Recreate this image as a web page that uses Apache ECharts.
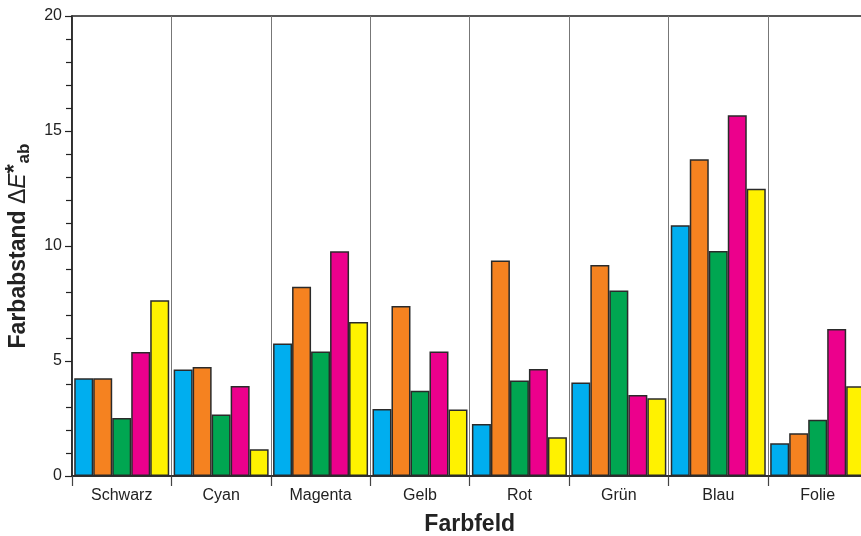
<!DOCTYPE html>
<html>
<head>
<meta charset="utf-8">
<script src="https://cdn.jsdelivr.net/npm/echarts@6/dist/echarts.min.js"></script>
<style>
  html, body { margin: 0; padding: 0; background: #fff; }
  #chart { width: 861px; height: 536px; }
</style>
</head>
<body>
<div id="chart"></div>
<script>
// Farbfelder (categories on the x axis)
const categories = ['Schwarz', 'Cyan', 'Magenta', 'Gelb', 'Rot', 'Grün', 'Blau', 'Folie'];

// ΔE*ab per Farbfeld, one array per bar series (left to right within each group)
const seriesCyan    = [4.25, 4.63, 5.76, 2.91, 2.26, 4.07, 10.90, 1.42];
const seriesOrange  = [4.25, 4.74, 8.23, 7.39, 9.37, 9.17, 13.77, 1.86];
const seriesGreen   = [2.52, 2.67, 5.41, 3.71, 4.15, 8.07, 9.78, 2.45];
const seriesMagenta = [5.39, 3.91, 9.77, 5.41, 4.65, 3.52, 15.68, 6.39];
const seriesYellow  = [7.64, 1.16, 6.70, 2.89, 1.68, 3.38, 12.49, 3.90];

const yTicks = [0, 5, 10, 15, 20];

const barColors = ['#00AEEF', '#F58220', '#00A651', '#EC008C', '#FFF200'];
const seriesData = [seriesCyan, seriesOrange, seriesGreen, seriesMagenta, seriesYellow];
const seriesNames = ['Cyan', 'Orange', 'Grün', 'Magenta', 'Gelb'];

const FONT = '"Liberation Sans", Arial, Helvetica, sans-serif';

const chart = echarts.init(document.getElementById('chart'), null, { renderer: 'canvas' });

chart.setOption({
  animation: false,
  backgroundColor: '#ffffff',
  textStyle: { fontFamily: FONT },
  grid: {
    left: 72,
    top: 16,
    bottom: 60,
    right: -6.4,
    outerBoundsMode: 'none',
    containLabel: false,
    show: true,
    borderColor: '#222',
    borderWidth: 1.5,
    backgroundColor: 'transparent'
  },
  xAxis: {
    type: 'category',
    data: categories,
    name: 'Farbfeld',
    nameLocation: 'middle',
    nameGap: 37,
    nameTextStyle: { fontFamily: FONT, fontSize: 23, fontWeight: 'bold', color: '#222' },
    axisLine: { show: true, lineStyle: { color: '#222', width: 1.5 } },
    axisTick: { show: true, inside: false, length: 10, interval: 0, lineStyle: { color: '#444', width: 1.2 } },
    axisLabel: { interval: 0, margin: 12, fontFamily: FONT, fontSize: 16, color: '#222' },
    splitLine: { show: true, interval: 0, lineStyle: { color: '#777', width: 1 } }
  },
  yAxis: {
    type: 'value',
    min: 0,
    max: 20,
    interval: 5,
    name: '{b|Farbabstand }{d|Δ}{e|E}{s|*}{sub|ab}',
    nameLocation: 'middle',
    nameGap: 37,
    nameTextStyle: {
      color: '#222',
      rich: {
        b: { fontFamily: FONT, fontSize: 23, fontWeight: 'bold', color: '#222' },
        d: { fontFamily: FONT, fontSize: 23, color: '#222' },
        e: { fontFamily: FONT, fontSize: 23, fontStyle: 'italic', color: '#222' },
        s: { fontFamily: FONT, fontSize: 23, fontWeight: 'bold', color: '#222', verticalAlign: 'top', padding: [0, 0, 6, 0] },
        sub: { fontFamily: FONT, fontSize: 17, fontWeight: 'bold', color: '#222', verticalAlign: 'bottom', padding: [10, 0, 0, 1] }
      }
    },
    axisLine: { show: true, lineStyle: { color: '#222', width: 1.5 } },
    axisTick: { show: true, inside: false, length: 7, lineStyle: { color: '#222', width: 1.2 } },
    minorTick: { show: true, splitNumber: 5, length: 6, lineStyle: { color: '#222', width: 1.2 } },
    axisLabel: {
      margin: 10,
      fontFamily: FONT,
      fontSize: 16,
      color: '#222',
      customValues: yTicks
    },
    splitLine: { show: false }
  },
  series: seriesData.map((data, i) => ({
    name: seriesNames[i],
    type: 'bar',
    data: data,
    barWidth: 19,
    barGap: '0%',
    itemStyle: {
      color: barColors[i],
      borderColor: '#2a2a2a',
      borderWidth: 1.5
    }
  }))
});
</script>
</body>
</html>
